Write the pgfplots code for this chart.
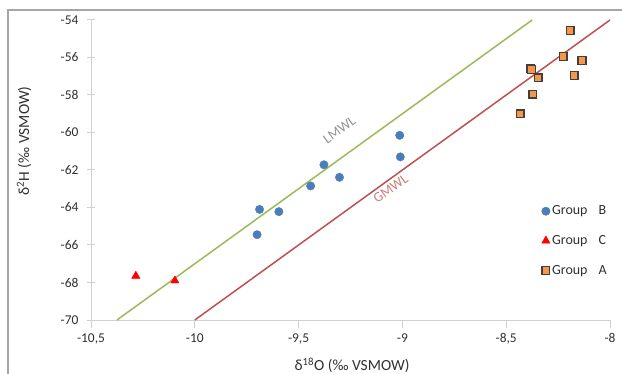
\documentclass[border=0pt]{standalone}
\usepackage{pgfplots}
\pgfplotsset{compat=1.18}
\usepackage{fontspec}
\setmainfont{Carlito}
\definecolor{grpB}{HTML}{4A7EBB}
\definecolor{grpA}{HTML}{F79646}
\definecolor{lmwl}{HTML}{9BBB59}
\definecolor{gmwl}{HTML}{C0504D}
\definecolor{axgray}{HTML}{D0D0D0}
\definecolor{txt}{HTML}{303030}
\begin{document}
\begin{tikzpicture}
\useasboundingbox (0bp,0bp) rectangle (622bp,374bp);
\draw[line width=2.4bp, color=gray!70] (8bp,-5bp) -- (8bp,364bp) -- (630bp,364bp);
\begin{axis}[
  at={(91bp,54bp)}, anchor=south west, scale only axis,
  width=519bp, height=300bp,
  xmin=-10.5, xmax=-8, ymin=-70, ymax=-54,
  axis x line=bottom, axis y line=left,
  axis line style={-, draw=axgray, line width=1bp},
  xtick={-10.5,-10,-9.5,-9,-8.5,-8},
  ytick={-70,-68,-66,-64,-62,-60,-58,-56,-54},
  xtick align=outside, ytick align=center,
  major tick length=8bp,
  tick style={draw=axgray, line width=1bp},
  /pgf/number format/assume math mode=true,
  /pgf/number format/use comma,
  ticklabel style={font=\fontsize{13.5}{15}\selectfont, text=txt},
  xticklabel style={yshift=-2bp},
  yticklabel style={xshift=-5bp},
  every axis x label/.style={at={(axis description cs:0.503,-0.15)}, anchor=center},
  every axis y label/.style={at={(axis description cs:-0.129,0.597)}, anchor=center, rotate=90},
  xlabel={\fontsize{15.5}{17}\selectfont\color{txt}δ\textsuperscript{18}O (‰ VSMOW)},
  ylabel={\fontsize{15.5}{17}\selectfont\color{txt}δ\textsuperscript{2}H (‰ VSMOW)},
  clip=false,
  legend style={at={(axis cs:-8.33,-63.8)}, anchor=north west, draw=none, fill=none,
    font=\fontsize{14}{16}\selectfont, text=txt, row sep=15bp, inner sep=0pt},
  legend cell align=left,
  legend image code/.code={\draw[mark repeat=2,mark phase=2,#1] plot coordinates {(0bp,0bp) (4.5bp,0bp) (9bp,0bp)};},
]
\addplot[lmwl, line width=1.5bp, forget plot] coordinates {(-10.375,-70) (-8.375,-54)};
\addplot[gmwl, line width=1.5bp, forget plot] coordinates {(-10,-70) (-8,-54)};
\node[rotate=35.8, text=gray!85, font=\fontsize{14}{16}\selectfont] at (axis cs:-9.303,-59.87) {LMWL};
\node[rotate=35.8, text=gmwl!75, font=\fontsize{14}{16}\selectfont] at (axis cs:-9.057,-63.0) {GMWL};
\addplot[only marks, mark=*, mark size=4.2bp, draw=grpB, fill=grpB] coordinates {
 (-9.013,-60.15) (-9.01,-61.3) (-9.378,-61.72) (-9.303,-62.39) (-9.442,-62.85)
 (-9.688,-64.1) (-9.595,-64.22) (-9.70,-65.45)};
\addlegendentry{Group\hspace{11bp}B}
\addplot[only marks, mark=triangle*, mark size=4.8bp, draw=red, fill=red] coordinates {
 (-10.284,-67.65) (-10.096,-67.9)};
\addlegendentry{Group\hspace{11bp}C}
\addplot[only marks, mark=square*, mark size=3.9bp, draw=black!75, fill=grpA, line width=1.3bp] coordinates {
 (-8.192,-54.57) (-8.226,-55.96) (-8.135,-56.15) (-8.385,-56.60) (-8.379,-56.63)
 (-8.346,-57.09) (-8.173,-56.97) (-8.372,-57.96) (-8.433,-59.01)};
\addlegendentry{Group\hspace{11bp}A}
\end{axis}
\end{tikzpicture}
\end{document}
